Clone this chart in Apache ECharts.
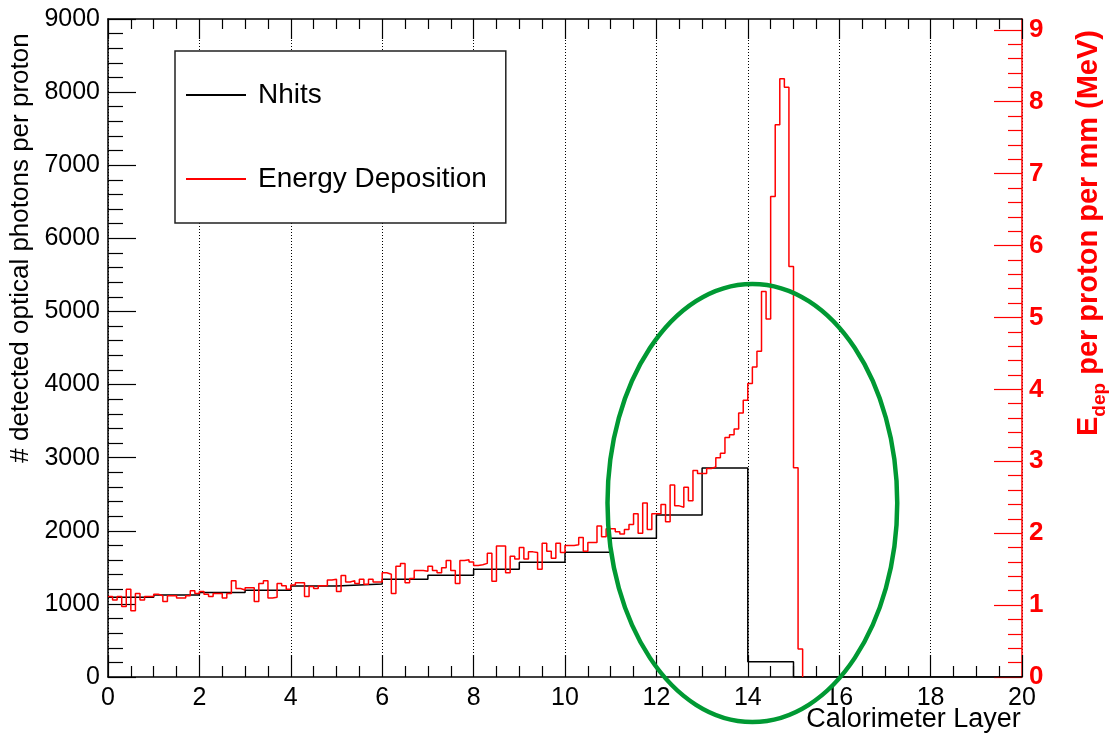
<!DOCTYPE html>
<html><head><meta charset="utf-8">
<script src="https://cdn.jsdelivr.net/npm/echarts@6/dist/echarts.min.js"></script>
<style>html,body{margin:0;padding:0;background:#fff}#c{width:1115px;height:738px}</style>
</head><body><div id="c"></div>
<script>
// ---- data ----
// Nhits: one bin per calorimeter layer (lower edges 0..19, closing edge 20)
const layerEdges = [0,1,2,3,4,5,6,7,8,9,10,11,12,13,14,15,16,17,18,19,20];
const nhits = [1090,1120,1155,1185,1245,1272,1336,1391,1473,1569,1706,1897,2216,2859,210,0,0,0,0,0];
// Energy deposition (MeV per proton per mm), bins of 0.1 layer starting at 0
const edepBinWidth = 0.1;
const edep = [
1.12,1.07,1.12,0.98,1.22,0.92,1.16,1.07,1.12,1.12,
1.15,1.13,1.05,1.13,1.13,1.10,1.10,1.13,1.20,1.16,
1.19,1.15,1.12,1.16,1.16,1.10,1.16,1.34,1.23,1.21,
1.24,1.24,1.05,1.30,1.34,1.10,1.11,1.30,1.27,1.22,
1.28,1.31,1.31,1.12,1.26,1.23,1.27,1.27,1.35,1.36,
1.19,1.41,1.32,1.34,1.30,1.36,1.29,1.36,1.32,1.32,
1.45,1.43,1.16,1.54,1.58,1.31,1.37,1.48,1.48,1.47,
1.54,1.48,1.45,1.52,1.62,1.48,1.30,1.62,1.63,1.60,
1.55,1.56,1.58,1.72,1.33,1.82,1.82,1.45,1.68,1.64,
1.80,1.64,1.74,1.73,1.50,1.86,1.75,1.65,1.86,1.73,
1.83,1.83,1.84,1.94,1.75,1.87,1.87,2.10,1.95,2.06,
2.06,2.02,1.99,2.05,2.12,2.27,2.00,2.42,2.05,2.27,
2.27,2.40,2.16,2.67,2.38,2.36,2.64,2.45,2.87,2.83,
2.83,2.90,2.92,3.05,3.11,3.33,3.37,3.45,3.67,3.85,
4.08,4.31,4.53,5.36,4.98,6.68,7.68,8.32,8.20,5.71,
2.91,0.39,0];
// axis ranges / ticks
const xMax = 20, leftMax = 9000;
const rightMax = 9.15;      // right axis extent at the top of the frame
const rightTickMax = 9;     // last labelled tick on the right axis
// annotation ellipse (data coords: layer, left-axis value)
const ellipseCenter = [14.1, 2380];
const ellipseRadius = [3.17, 2996];

// ---- build ----
const FONT = 'Liberation Sans';
const W = 1115, H = 738;
const G = {left:108, right:93, top:19, bottom:61};
const plotH = H - G.top - G.bottom;
const nhitsData = layerEdges.map((x,i)=>[x, i < nhits.length ? nhits[i] : 0]);
const edepData = edep.map((v,i)=>[+(i*edepBinWidth).toFixed(1), v]);

const grid0 = Object.assign({outerBoundsMode:'none', containLabel:false}, G);
// second grid, same box but its top sits at value rightTickMax of the right axis
const grid1 = Object.assign({}, grid0, {top: G.top + plotH * (1 - rightTickMax / rightMax)});

const chart = echarts.init(document.getElementById('c'));
const option = {
  animation:false,
  backgroundColor:'#fff',
  textStyle:{fontFamily:FONT},
  grid:[grid0, grid1],
  legend:{
    orient:'vertical', left:175, top:51,
    backgroundColor:'#fff', borderColor:'#222', borderWidth:1.5, borderRadius:0,
    padding:[30,19,30,11], itemGap:56, itemWidth:60, itemHeight:2,
    icon:'rect',
    formatter: n => '{g|}' + n,
    textStyle:{fontFamily:FONT, fontSize:28, lineHeight:28, color:'#000', rich:{g:{width:7}}},
    data:['Nhits','Energy Deposition']
  },
  xAxis:[{
    gridIndex:0, type:'value', min:0, max:xMax, interval:2, position:'bottom',
    name:'Calorimeter Layer', nameLocation:'middle', nameGap:29, nameMoveOverlap:false,
    nameTextStyle:{fontFamily:FONT, fontSize:27, color:'#000', padding:[0,0,0,697]},
    axisLine:{onZero:false, lineStyle:{color:'#000', width:1.5}},
    axisTick:{inside:true, length:22, lineStyle:{color:'#000', width:1.2}},
    minorTick:{show:true, splitNumber:4, length:11, lineStyle:{color:'#000', width:1.2}},
    axisLabel:{fontFamily:FONT, fontSize:25, color:'#000', margin:9},
    splitLine:{show:true, lineStyle:{color:'#000', width:1, type:[1,2]}}
  },{
    gridIndex:0, type:'value', min:0, max:xMax, interval:2, position:'top',
    axisLine:{onZero:false, lineStyle:{color:'#000', width:1.5}},
    axisTick:{inside:true, length:20, lineStyle:{color:'#000', width:1.2}},
    minorTick:{show:true, splitNumber:4, length:10, lineStyle:{color:'#000', width:1.2}},
    axisLabel:{show:false}, splitLine:{show:false}
  },{
    gridIndex:1, type:'value', min:0, max:xMax, show:false, axisLine:{onZero:false}
  }],
  yAxis:[{
    gridIndex:0, type:'value', min:0, max:leftMax, interval:1000, position:'left',
    name:'# detected optical photons per proton', nameLocation:'middle', nameRotate:90, nameGap:74,
    nameTextStyle:{fontFamily:FONT, fontSize:26, color:'#000', padding:[0,0,0,200]},
    axisLine:{show:true, onZero:false, lineStyle:{color:'#000', width:1.5}},
    axisTick:{show:true, inside:true, length:28, lineStyle:{color:'#000', width:1.2}},
    minorTick:{show:true, splitNumber:5, length:15, lineStyle:{color:'#000', width:1.2}},
    axisLabel:{fontFamily:FONT, fontSize:25, color:'#000', margin:8, formatter: v => String(v)},
    splitLine:{show:false}
  },{
    // right data axis (full frame height): red line + title
    gridIndex:0, type:'value', min:0, max:rightMax, position:'right',
    name:'{e|E}{s|dep}{t| per proton per mm (MeV)}', nameLocation:'middle', nameRotate:90, nameGap:47,
    nameTextStyle:{color:'#f00', fontFamily:FONT, fontWeight:'bold', fontSize:29, padding:[0,0,0,230],
      rich:{
        e:{fontFamily:FONT, fontWeight:'bold', fontSize:29, color:'#f00', lineHeight:40},
        s:{fontFamily:FONT, fontWeight:'bold', fontSize:19, color:'#f00', lineHeight:20, verticalAlign:'bottom'},
        t:{fontFamily:FONT, fontWeight:'bold', fontSize:29, color:'#f00', lineHeight:40}
      }},
    axisLine:{show:true, onZero:false, lineStyle:{color:'#f00', width:1.5}},
    axisTick:{show:false}, axisLabel:{show:false}, minorTick:{show:false}, splitLine:{show:false}
  },{
    // right tick/label axis, same scale, ends at rightTickMax
    gridIndex:1, type:'value', min:0, max:rightTickMax, interval:1, position:'right',
    axisLine:{show:false, onZero:false},
    axisTick:{show:true, inside:true, length:28, lineStyle:{color:'#f00', width:1.2}},
    minorTick:{show:true, splitNumber:5, length:14, lineStyle:{color:'#f00', width:1.2}},
    axisLabel:{fontFamily:FONT, fontSize:26, fontWeight:'bold', color:'#f00', margin:7, formatter: v => String(v)},
    splitLine:{show:false}
  }],
  series:[{
    name:'Nhits', type:'line', step:'end', xAxisIndex:0, yAxisIndex:0,
    data:nhitsData, symbol:'none', lineStyle:{color:'#000', width:1.5}, itemStyle:{color:'#000'}, z:3
  },{
    name:'Energy Deposition', type:'line', step:'end', xAxisIndex:0, yAxisIndex:1,
    data:edepData, symbol:'none', lineStyle:{color:'#f00', width:1.5}, itemStyle:{color:'#f00'}, z:4
  }]
};
chart.setOption(option);
const c = chart.convertToPixel({xAxisIndex:0, yAxisIndex:0}, ellipseCenter);
const e = chart.convertToPixel({xAxisIndex:0, yAxisIndex:0}, [ellipseCenter[0]+ellipseRadius[0], ellipseCenter[1]+ellipseRadius[1]]);
chart.setOption({graphic:[{
  type:'ellipse', z:100,
  shape:{cx:c[0], cy:c[1], rx:Math.abs(e[0]-c[0]), ry:Math.abs(c[1]-e[1])},
  style:{fill:'none', stroke:'#009933', lineWidth:4.5}
}]});
</script></body></html>
